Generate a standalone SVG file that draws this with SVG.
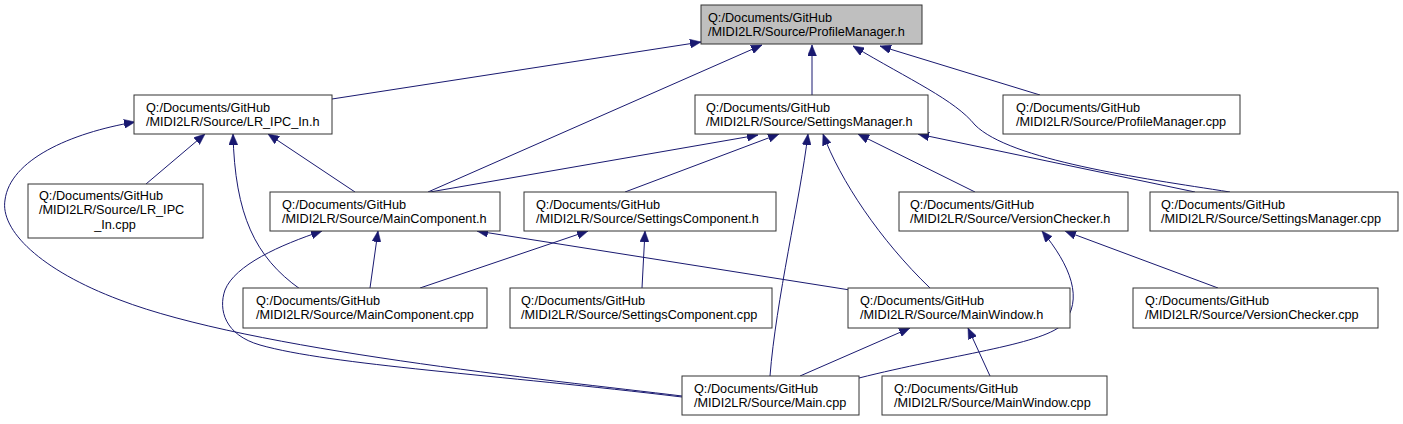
<svg xmlns="http://www.w3.org/2000/svg" width="1403" height="424" viewBox="0 0 1403 424">
<style>
.n rect{fill:#fff;stroke:#333;stroke-width:1}
.n.root rect{fill:#bfbfbf}
.n text{font-family:"Liberation Sans",Arial,sans-serif;font-size:12.7px;fill:#000}
.e path{fill:none;stroke:#191970;stroke-width:1;marker-end:url(#ah)}
</style>
<defs>
<marker id="ah" markerUnits="userSpaceOnUse" markerWidth="11" markerHeight="9" refX="11" refY="4.5" orient="auto">
<path d="M0,0 L11,4.5 L0,9 z" fill="#191970" stroke="#191970" stroke-width="0.5"/>
</marker>
</defs>
<rect width="1403" height="424" fill="#fff"/>
<g id="edges" class="e">
<path d="M332,99 L701,42"/>
<path d="M428,192 L762,45"/>
<path d="M812,95 L812,45"/>
<path d="M1230,192 C1140,178 1010,160 975,125 C 955,100 910,80 853,46"/>
<path d="M1040,95 L880,46"/>
<path d="M146,184 L205,134"/>
<path d="M300,289 C255,257 235,215 233,134"/>
<path d="M355,192 L268,134"/>
<path d="M682,396 C550,380 250,350 120,300 C40,270 0,230 5,200 C10,160 70,133 135,122"/>
<path d="M430,192 L758,135"/>
<path d="M625,192 L779,134"/>
<path d="M770,376 C776,300 800,200 808,134"/>
<path d="M930,288 C880,240 840,180 823,134"/>
<path d="M975,192 L858,134"/>
<path d="M1195,192 L918,134"/>
<path d="M370,288 L378,231"/>
<path d="M850,290 L477,231"/>
<path d="M682,397 C500,375 330,365 260,345 C225,335 218,310 225,290 C235,265 280,245 322,231"/>
<path d="M420,288 L588,231"/>
<path d="M642,288 L645,231"/>
<path d="M859,378 C950,355 1040,345 1062,325 C1085,300 1070,265 1042,231"/>
<path d="M1218,288 L1065,231"/>
<path d="M800,376 L910,328"/>
<path d="M990,376 L968,328"/>
</g>
<g id="n_profilemanager_h" class="n root"><rect x="701" y="5" width="221" height="39"/><text x="708" y="22">Q:/Documents/GitHub</text><text x="708" y="36">/MIDI2LR/Source/ProfileManager.h</text></g>
<g id="n_lr_ipc_in_h" class="n"><rect x="134" y="95" width="198" height="39"/><text x="146" y="112">Q:/Documents/GitHub</text><text x="146" y="126">/MIDI2LR/Source/LR_IPC_In.h</text></g>
<g id="n_settingsmanager_h" class="n"><rect x="695" y="95" width="233" height="39"/><text x="706" y="112">Q:/Documents/GitHub</text><text x="706" y="126">/MIDI2LR/Source/SettingsManager.h</text></g>
<g id="n_profilemanager_cpp" class="n"><rect x="1003" y="95" width="237" height="39"/><text x="1016" y="112">Q:/Documents/GitHub</text><text x="1016" y="126">/MIDI2LR/Source/ProfileManager.cpp</text></g>
<g id="n_lr_ipc_in_cpp" class="n"><rect x="28" y="184" width="175" height="54"/><text x="39" y="200">Q:/Documents/GitHub</text><text x="39" y="214">/MIDI2LR/Source/LR_IPC</text><text x="115" y="229" text-anchor="middle">_In.cpp</text></g>
<g id="n_maincomponent_h" class="n"><rect x="270" y="192" width="230" height="39"/><text x="282" y="209">Q:/Documents/GitHub</text><text x="282" y="223">/MIDI2LR/Source/MainComponent.h</text></g>
<g id="n_settingscomponent_h" class="n"><rect x="524" y="192" width="252" height="39"/><text x="536" y="209">Q:/Documents/GitHub</text><text x="536" y="223">/MIDI2LR/Source/SettingsComponent.h</text></g>
<g id="n_versionchecker_h" class="n"><rect x="899" y="192" width="229" height="39"/><text x="910" y="209">Q:/Documents/GitHub</text><text x="910" y="223">/MIDI2LR/Source/VersionChecker.h</text></g>
<g id="n_settingsmanager_cpp" class="n"><rect x="1150" y="192" width="248" height="39"/><text x="1161" y="209">Q:/Documents/GitHub</text><text x="1161" y="223">/MIDI2LR/Source/SettingsManager.cpp</text></g>
<g id="n_maincomponent_cpp" class="n"><rect x="243" y="288" width="244" height="40"/><text x="256" y="305">Q:/Documents/GitHub</text><text x="256" y="319">/MIDI2LR/Source/MainComponent.cpp</text></g>
<g id="n_settingscomponent_cpp" class="n"><rect x="510" y="288" width="262" height="40"/><text x="521" y="305">Q:/Documents/GitHub</text><text x="521" y="319">/MIDI2LR/Source/SettingsComponent.cpp</text></g>
<g id="n_mainwindow_h" class="n"><rect x="848" y="288" width="222" height="40"/><text x="860" y="305">Q:/Documents/GitHub</text><text x="860" y="319">/MIDI2LR/Source/MainWindow.h</text></g>
<g id="n_versionchecker_cpp" class="n"><rect x="1133" y="288" width="245" height="40"/><text x="1145" y="305">Q:/Documents/GitHub</text><text x="1145" y="319">/MIDI2LR/Source/VersionChecker.cpp</text></g>
<g id="n_main_cpp" class="n"><rect x="682" y="376" width="177" height="39"/><text x="694" y="393">Q:/Documents/GitHub</text><text x="694" y="407">/MIDI2LR/Source/Main.cpp</text></g>
<g id="n_mainwindow_cpp" class="n"><rect x="882" y="376" width="225" height="39"/><text x="894" y="393">Q:/Documents/GitHub</text><text x="894" y="407">/MIDI2LR/Source/MainWindow.cpp</text></g>
</svg>
